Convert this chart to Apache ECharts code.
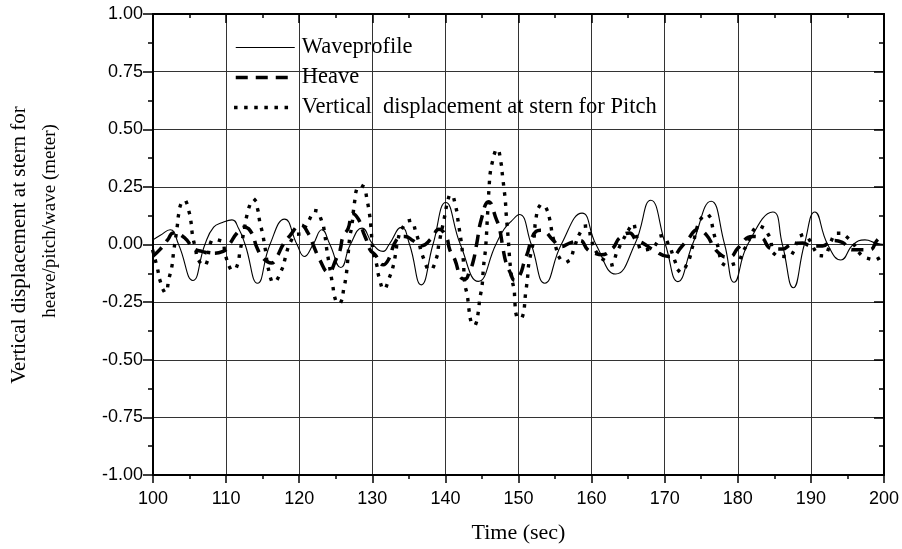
<!DOCTYPE html>
<html>
<head>
<meta charset="utf-8">
<script src="https://cdn.jsdelivr.net/npm/echarts@6/dist/echarts.min.js"></script>
<style>
html,body{margin:0;padding:0;background:#fff;}
#chart{width:902px;height:549px;}
</style>
</head>
<body>
<div id="chart"></div>
<script>
const seriesNames = ['Waveprofile', 'Heave', 'Vertical  displacement at stern for Pitch'];

const waveTime = [100.0,101.0,102.35,103.5,105.45,107.1,108.3,109.5,110.8,111.7,112.6,114.3,116.0,118.0,119.7,120.7,121.9,123.1,124.2,125.7,127.0,128.6,130.1,131.5,132.3,134.0,135.1,136.7,138.3,140.05,142.05,144.5,146.9,148.0,149.0,150.1,151.75,153.6,155.85,158.7,160.6,163.3,165.9,168.1,170.1,171.8,173.8,176.35,178.2,179.5,181.35,184.8,186.1,187.6,189.1,190.55,192.3,194.1,195.8,197.4,199.0,200.0];
const waveValue = [0.02,0.04,0.064,0.0,-0.156,0.0,0.075,0.095,0.107,0.07,0.0,-0.168,0.0,0.11,0.0,-0.052,0.0,0.064,0.0,-0.10,0.0,0.071,0.0,-0.03,0.0,0.075,0.0,-0.175,0.0,0.182,0.0,-0.16,0.0,0.065,0.10,0.13,0.0,-0.168,0.0,0.136,0.0,-0.128,0.0,0.192,0.0,-0.161,0.0,0.1875,0.0,-0.164,0.0,0.141,0.0,-0.1875,0.0,0.141,0.0,-0.067,0.0,0.02,0.005,0.0];

const heaveTime = [100.0,101.0,102.0,102.8,104.4,105.5,106.7,108.0,109.6,110.5,111.5,112.5,113.5,114.2,115.1,116.2,117.0,117.8,118.7,120.2,121.2,122.1,122.8,124.0,125.1,125.6,126.0,126.7,127.3,128.1,128.8,129.2,129.7,130.4,131.5,132.2,133.3,134.45,135.6,136.7,138.1,139.1,140.1,140.6,141.3,142.2,142.7,143.3,143.8,144.3,144.9,145.9,147.0,147.4,147.9,148.3,148.8,149.5,150.2,150.8,151.3,151.75,152.4,153.0,153.6,154.7,155.85,157.0,158.4,159.5,160.6,161.3,162.9,163.8,165.2,166.1,167.0,168.6,170.5,171.1,172.25,173.2,174.5,175.7,176.8,177.7,178.5,179.1,180.0,182.0,183.2,184.5,186.1,187.3,188.9,190.0,191.6,193.0,194.3,195.7,198.0,199.1,200.0];
const heaveValue = [-0.05,-0.02,0.02,0.05,0.027,-0.016,-0.03,-0.038,-0.03,0.003,0.05,0.075,0.05,-0.012,-0.06,-0.08,-0.05,0.0,0.037,0.085,0.05,-0.016,-0.066,-0.12,-0.06,-0.023,0.035,0.07,0.135,0.11,0.05,0.02,-0.023,-0.045,-0.088,-0.066,0.02,0.035,0.016,-0.006,0.027,0.066,0.035,-0.023,-0.066,-0.146,-0.15,-0.117,-0.074,0.006,0.107,0.186,0.107,0.07,-0.02,-0.08,-0.117,-0.155,-0.132,-0.074,-0.03,0.02,0.057,0.062,0.057,0.02,-0.009,0.006,0.017,-0.023,-0.04,-0.045,-0.016,0.028,0.05,0.02,0.006,-0.026,-0.052,-0.05,-0.012,0.023,0.064,0.042,-0.016,-0.045,-0.055,-0.052,-0.016,0.035,0.03,-0.016,-0.02,0.0,0.006,-0.006,-0.006,0.017,0.009,-0.023,-0.023,0.02,0.042];

const pitchTime = [100.0,100.6,101.0,101.7,102.2,102.6,102.8,103.3,103.5,103.9,104.3,104.85,105.2,105.4,105.8,106.2,107.0,108.3,109.4,109.9,110.55,111.0,111.55,111.9,112.4,112.9,113.5,113.8,114.3,114.6,115.0,115.3,115.9,116.5,117.6,118.15,118.7,119.5,120.3,121.25,122.2,123.1,123.5,123.75,124.0,124.6,124.9,125.3,125.7,126.1,126.4,126.6,126.9,127.2,127.6,128.0,128.45,128.9,129.3,129.6,129.8,130.1,130.6,130.9,131.6,132.3,132.85,133.2,133.5,134.1,135.2,136.0,137.0,137.9,138.8,139.1,139.8,140.5,140.8,141.4,141.7,142.4,142.65,143.0,143.2,143.5,143.8,144.15,144.5,144.7,145.0,145.15,145.3,145.5,145.75,146.0,146.15,146.5,146.9,147.1,147.6,147.8,148.0,148.2,148.3,148.6,148.9,149.2,149.4,149.5,149.7,150.1,150.5,151.0,151.3,151.4,151.75,152.1,152.4,152.9,153.3,153.8,154.3,154.6,155.0,155.8,156.5,157.1,157.7,158.45,159.2,159.6,159.95,160.9,161.8,162.7,163.45,164.3,165.2,165.65,166.2,167.0,168.4,169.6,170.7,171.3,172.2,173.2,173.75,174.75,175.75,177.0,178.4,179.85,180.9,183.0,184.2,185.2,186.8,188.9,191.5,193.8,195.25,197.4,198.9,200.0];
const pitchValue = [-0.03,-0.103,-0.16,-0.207,-0.146,-0.092,-0.038,0.075,0.129,0.182,0.19,0.15,0.097,0.042,-0.016,-0.066,-0.09,0.02,0.013,-0.045,-0.103,-0.11,-0.088,-0.03,0.05,0.133,0.189,0.195,0.155,0.10,0.045,-0.009,-0.121,-0.163,-0.11,-0.052,0.003,0.04,0.05,0.10,0.147,0.10,0.042,-0.016,-0.066,-0.18,-0.233,-0.255,-0.25,-0.192,-0.139,-0.081,0.027,0.081,0.19,0.249,0.255,0.244,0.19,0.136,0.081,-0.03,-0.088,-0.139,-0.194,-0.146,-0.095,-0.038,0.02,0.071,0.104,0.049,-0.059,-0.11,-0.056,0.0,0.107,0.21,0.215,0.165,0.11,-0.052,-0.168,-0.222,-0.276,-0.334,-0.35,-0.345,-0.293,-0.237,-0.182,-0.124,-0.07,-0.016,0.12,0.259,0.314,0.367,0.41,0.413,0.355,0.302,0.247,0.19,0.139,0.023,-0.10,-0.165,-0.194,-0.248,-0.306,-0.32,-0.316,-0.205,-0.125,-0.086,-0.03,0.023,0.115,0.168,0.172,0.157,0.105,0.05,0.0,-0.067,-0.075,-0.06,-0.006,0.052,0.08,0.075,0.02,-0.045,-0.07,-0.089,-0.035,0.02,0.071,0.09,0.03,-0.023,-0.012,0.038,-0.012,-0.064,-0.118,-0.074,-0.016,0.10,0.129,0.02,-0.089,-0.078,-0.02,0.078,0.042,-0.045,-0.052,0.041,-0.049,0.049,0.023,-0.055,-0.064,-0.03];

const xMin = 100, xMax = 200, xStep = 10;
const yMin = -1, yMax = 1, yStep = 0.25;
const yTitleLines = ['Vertical displacement at stern for', 'heave/pitch/wave (meter)'];
const xTitle = 'Time (sec)';

function pairs(t, v) { return t.map((x, i) => [x, v[i]]); }

const chart = echarts.init(document.getElementById('chart'), null, {renderer: 'canvas'});

const tickFont = {fontFamily: 'Liberation Sans, Arial, sans-serif', fontSize: 18, color: '#000'};
const serif = 'Liberation Serif, Times New Roman, serif';

const lineStyles = [
  {color: '#000', width: 1.1, type: 'solid'},
  {color: '#000', width: 3.5, type: [12, 8]},
  {color: '#000', width: 3.4, type: [0.1, 10], cap: 'square'}
];

const baseX = {
  type: 'value', min: xMin, max: xMax, interval: xStep,
  axisLine: {show: true, onZero: false, lineStyle: {color: '#000', width: 2}},
};
const baseY = {
  type: 'value', min: yMin, max: yMax, interval: yStep,
  axisLine: {show: true, onZero: false, lineStyle: {color: '#000', width: 2}},
};

chart.setOption({
  animation: false,
  backgroundColor: '#fff',
  grid: {left: 153, right: 17, top: 14, bottom: 72, containLabel: false},
  legend: {
    orient: 'vertical', left: 234, top: 36, padding: 0,
    itemWidth: 59, itemHeight: 14, itemGap: 7,
    itemStyle: {opacity: 0, borderWidth: 0},
    textStyle: {fontFamily: serif, fontSize: 22.5, lineHeight: 22.5, color: '#000', padding: [0, 0, 0, 2]},
    data: seriesNames.map((n, i) => ({name: n, lineStyle: Object.assign({}, lineStyles[i])})),
    selectedMode: false
  },
  xAxis: [
    Object.assign({}, baseX, {
      position: 'bottom',
      axisTick: {show: true, inside: false, length: 8, lineStyle: {color: '#000', width: 1.5}},
      minorTick: {show: true, splitNumber: 2, length: 4, lineStyle: {color: '#000', width: 1.5}},
      axisLabel: Object.assign({margin: 15}, tickFont),
      splitLine: {show: true, lineStyle: {color: '#333', width: 1}},
      name: xTitle, nameLocation: 'middle', nameGap: 47,
      nameTextStyle: {fontFamily: serif, fontSize: 22, color: '#000'}
    }),
    Object.assign({}, baseX, {
      position: 'top',
      axisTick: {show: true, inside: true, length: 9, lineStyle: {color: '#000', width: 1.5}},
      minorTick: {show: true, splitNumber: 2, length: 4, lineStyle: {color: '#000', width: 1.5}},
      axisLabel: {show: false},
      splitLine: {show: false}
    })
  ],
  yAxis: [
    Object.assign({}, baseY, {
      position: 'left',
      axisTick: {show: true, inside: false, length: 10, lineStyle: {color: '#000', width: 1.5}},
      minorTick: {show: true, splitNumber: 2, length: 5, lineStyle: {color: '#000', width: 1.5}},
      axisLabel: Object.assign({margin: 10, formatter: v => v.toFixed(2)}, tickFont),
      splitLine: {show: true, lineStyle: {color: '#333', width: 1}}
    }),
    Object.assign({}, baseY, {
      position: 'right',
      axisTick: {show: true, inside: true, length: 10, lineStyle: {color: '#000', width: 1.5}},
      minorTick: {show: true, splitNumber: 2, length: 5, lineStyle: {color: '#000', width: 1.5}},
      axisLabel: {show: false},
      splitLine: {show: false}
    })
  ],
  graphic: [
    {type: 'text', x: 19.5, y: 245, rotation: Math.PI / 2,
     style: {text: yTitleLines[0], font: '21px ' + serif, fill: '#000', align: 'center', verticalAlign: 'middle'}},
    {type: 'text', x: 50, y: 221, rotation: Math.PI / 2,
     style: {text: yTitleLines[1], font: '19px ' + serif, fill: '#000', align: 'center', verticalAlign: 'middle'}}
  ],
  series: [
    {name: seriesNames[0], type: 'line', xAxisIndex: 0, yAxisIndex: 0, data: pairs(waveTime, waveValue),
     smooth: 0.5, showSymbol: false, symbol: 'none', color: '#000', lineStyle: lineStyles[0]},
    {name: seriesNames[1], type: 'line', xAxisIndex: 0, yAxisIndex: 0, data: pairs(heaveTime, heaveValue),
     smooth: 0.5, showSymbol: false, symbol: 'none', color: '#000', lineStyle: lineStyles[1]},
    {name: seriesNames[2], type: 'line', xAxisIndex: 0, yAxisIndex: 0, data: pairs(pitchTime, pitchValue),
     smooth: 0.5, showSymbol: false, symbol: 'none', color: '#000', lineStyle: lineStyles[2]}
  ]
});
</script>
</body>
</html>
